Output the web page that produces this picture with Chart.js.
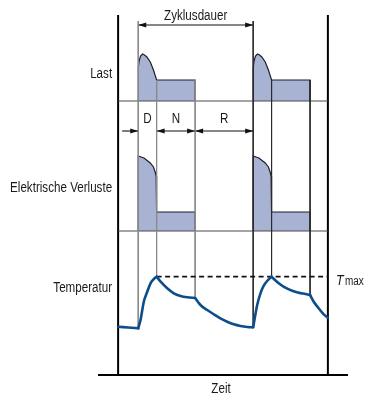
<!DOCTYPE html>
<html>
<head>
<meta charset="utf-8">
<script src="https://cdn.jsdelivr.net/npm/chart.js@4/dist/chart.umd.min.js"></script>
<style>
  html, body { margin: 0; padding: 0; background: #ffffff; }
  #c { display: block; }
</style>
</head>
<body>
<canvas id="c" width="371" height="397"></canvas>
<script>
// ---- Duty cycle: start (D), constant load (N), rest (R) ----
const phaseLabels  = ['D', 'N', 'R'];
const phaseLengths = [3.2, 6.7, 10.1];          // one cycle = 20 time units
const cycleStarts  = [0, 20];
const cycleLength  = 20;

// ---- Bands (stacked rows, shared vertical axis) ----
const rowLabels    = ['Last', 'Elektrische Verluste', 'Temperatur'];
const rowBaselines = [27.4, 14.4, 0];
const bandTop      = 36;
const windowRange  = [-3.5, 33];                  // observed time window
const axisRange    = [-7, 36.5];                  // time axis "Zeit"

// ---- Last: starting peak, then constant load (offsets within a cycle) ----
const loadT = [0, 0, 0.05, 0.15, 0.4, 0.75, 1.1, 1.5, 2.1, 2.65, 3.2, 9.9, 9.9];
const loadV = [27.4, 29.8, 30.8, 31.4, 31.9, 32.1, 32.0, 31.8, 31.3, 30.5, 29.5, 29.5, 27.4];

// ---- Elektrische Verluste (offsets within a cycle) ----
const lossT = [0, 0, 1.0, 2.1, 2.65, 2.95, 3.12, 3.2, 3.2, 9.9, 9.9];
const lossV = [14.4, 21.9, 21.7, 21.2, 20.8, 20.3, 19.9, 19.4, 16.3, 16.3, 14.4];

// ---- Temperatur, piecewise per phase ----
const tempPre   = [[-3.5, 4.83], [-1.75, 4.75], [0, 4.67]];
const tempRise1 = [[0, 4.67], [0.4, 5.5], [0.97, 7.33], [1.57, 8.33], [2.14, 9.17], [2.71, 9.6], [3.2, 9.83]];
const tempN1    = [[3.2, 9.83], [3.9, 9.33], [5.04, 8.67], [6.19, 8.17], [7.36, 7.9], [8.52, 7.77], [9.9, 7.7]];
const tempR1    = [[9.9, 7.7], [10.83, 7.0], [12.0, 6.5], [13.15, 6.07], [14.3, 5.67], [15.48, 5.33], [16.63, 5.07], [17.79, 4.9], [18.96, 4.8], [20, 4.77]];
const tempRise2 = [[20, 4.77], [20.7, 7.0], [21.27, 8.17], [21.84, 8.93], [22.43, 9.4], [23.2, 9.83]];
const tempN2    = [[23.2, 9.83], [24.45, 9.17], [25.6, 8.73], [26.78, 8.43], [27.93, 8.23], [29.1, 8.1], [29.9, 8.0]];
const tempR2    = [[29.9, 8.0], [30.54, 7.33], [31.4, 6.67], [32.28, 6.07], [33.0, 5.73]];
const tempMax   = 9.83;

// ---- Annotation levels ----
const cycleArrowLevel = 35;
const phaseArrowLevel = 24.4;
const phaseArrowLead  = -2.8;   // D is marked from outside
const loadLevel       = 29.5;
const guideTop        = 35.4;

// ---- Styling ----
const FILL   = '#a8b2d2';
const EDGE   = '#1e1e2a';
const TEMP   = '#0d4d8a';
const INK    = '#1a1a1a';
const guideColors = ['#8a8a8a', '#2b2b2b'];

const pts = arr => arr.map(p => ({ x: p[0], y: p[1] }));
const line = (data, color, width, extra) => Object.assign({
  data, borderColor: color, borderWidth: width, pointRadius: 0,
  fill: false, tension: 0, clip: false
}, extra || {});

const datasets = [];

// temperature curve (on top)
[tempPre, tempRise1, tempN1, tempR1, tempRise2, tempN2, tempR2].forEach(seg => {
  datasets.push(line(pts(seg), TEMP, 2.6, { order: 0, cubicInterpolationMode: 'monotone', borderCapStyle: 'round', borderJoinStyle: 'round' }));
});

// T max dashed level
datasets.push(line([{ x: phaseLengths[0], y: tempMax }, { x: windowRange[1], y: tempMax }], '#111', 1.8,
  { order: 1, borderDash: [5, 3.5] }));

// guide lines at phase boundaries, down to the temperature curve
const tempAtBoundary = [
  [tempRise1[0][1], tempN1[0][1], tempR1[0][1]],
  [tempRise2[0][1], tempN2[0][1], tempR2[0][1]]
];
cycleStarts.forEach((s, ci) => {
  const bounds = [0, phaseLengths[0], phaseLengths[0] + phaseLengths[1]];
  bounds.forEach((b, bi) => {
    const top = bi === 0 ? guideTop : loadLevel;
    datasets.push(line([{ x: s + b, y: top }, { x: s + b, y: tempAtBoundary[ci][bi] }], guideColors[ci], 1, { order: 2 }));
  });
});

// band separators
[rowBaselines[0], rowBaselines[1]].forEach(v => {
  datasets.push(line([{ x: windowRange[0], y: v }, { x: windowRange[1], y: v }], '#4a4a4a', 1.1, { order: 3 }));
});

// filled load and loss shapes
cycleStarts.forEach(s => {
  datasets.push(line(loadT.map((t, i) => ({ x: s + t, y: loadV[i] })), EDGE, 1.2,
    { order: 4, fill: { value: rowBaselines[0] }, backgroundColor: FILL }));
  datasets.push(line(lossT.map((t, i) => ({ x: s + t, y: lossV[i] })), EDGE, 1.2,
    { order: 4, fill: { value: rowBaselines[1] }, backgroundColor: FILL }));
});

// frame and time axis
windowRange.forEach(t => {
  datasets.push(line([{ x: t, y: 0 }, { x: t, y: bandTop }], '#000', 2, { order: 5 }));
});
datasets.push(line([{ x: axisRange[0], y: 0 }, { x: axisRange[1], y: 0 }], '#000', 2, { order: 5 }));

// dimension arrows: cycle length and D / N / R
const arrows = [
  { from: cycleStarts[0], to: cycleStarts[0] + cycleLength, y: cycleArrowLevel, heads: ['start', 'end'] },
  { from: phaseArrowLead, to: 0, y: phaseArrowLevel, heads: ['end'] },
  { from: phaseLengths[0], to: phaseLengths[0] + phaseLengths[1], y: phaseArrowLevel, heads: ['start', 'end'] },
  { from: phaseLengths[0] + phaseLengths[1], to: cycleLength, y: phaseArrowLevel, heads: ['start', 'end'] }
];
arrows.forEach(a => {
  datasets.push(line([{ x: a.from, y: a.y }, { x: a.to, y: a.y }], '#111', 1.1, { order: 2 }));
});

function drawText(ctx, text, px, py, align, font, sx) {
  ctx.save();
  ctx.font = font;
  ctx.textBaseline = 'alphabetic';
  ctx.textAlign = 'left';
  const w = ctx.measureText(text).width * sx;
  const x0 = align === 'right' ? px - w : align === 'center' ? px - w / 2 : px;
  ctx.translate(x0, py);
  ctx.scale(sx, 1);
  ctx.fillStyle = INK;
  ctx.fillText(text, 0, 0);
  ctx.restore();
}

const annotations = {
  id: 'annotations',
  afterDatasetsDraw(chart) {
    const ctx = chart.ctx;
    const xs = chart.scales.x, ys = chart.scales.y;
    const X = v => xs.getPixelForValue(v), Y = v => ys.getPixelForValue(v);

    // arrowheads
    ctx.save();
    ctx.fillStyle = '#111';
    arrows.forEach(a => {
      const y = Y(a.y);
      a.heads.forEach(h => {
        const tip = h === 'end' ? X(a.to) : X(a.from);
        const dir = h === 'end' ? -1 : 1;
        ctx.beginPath();
        ctx.moveTo(tip, y);
        ctx.lineTo(tip + dir * 8, y - 2.6);
        ctx.lineTo(tip + dir * 8, y + 2.6);
        ctx.closePath();
        ctx.fill();
      });
    });
    ctx.restore();

    const F = '"Liberation Sans", Arial, sans-serif';
    const SX = 0.83;
    // row labels
    const labelX = X(windowRange[0]) - 6;
    const labelLevels = [29.73, 18.33, 8.27];
    rowLabels.forEach((t, i) => drawText(ctx, t, labelX, Y(labelLevels[i]), 'right', '14px ' + F, SX));

    // cycle length
    drawText(ctx, 'Zyklusdauer', X(cycleStarts[0] + cycleLength / 2), Y(35.55), 'center', '14px ' + F, SX);

    // phase letters
    let acc = 0;
    phaseLabels.forEach((p, i) => {
      const mid = acc + phaseLengths[i] / 2;
      acc += phaseLengths[i];
      drawText(ctx, p, X(mid), Y(25.2), 'center', '14px ' + F, SX);
    });

    // T max
    drawText(ctx, 'T', X(windowRange[1]) + 8, Y(tempMax) + 8, 'left', 'italic 15px ' + F, SX);
    drawText(ctx, 'max', X(windowRange[1]) + 17, Y(tempMax) + 8.5, 'left', '12px ' + F, SX);

    // time axis
    drawText(ctx, 'Zeit', X((windowRange[0] + windowRange[1]) / 2) - 2, Y(0) + 18, 'center', '14px ' + F, SX);
  }
};

new Chart(document.getElementById('c'), {
  type: 'line',
  data: { datasets },
  options: {
    responsive: false,
    animation: false,
    devicePixelRatio: 1,
    events: [],
    layout: { padding: { left: 98, right: 23, top: 15, bottom: 22 } },
    plugins: { legend: { display: false }, tooltip: { enabled: false } },
    scales: {
      x: { type: 'linear', min: axisRange[0], max: axisRange[1], display: false },
      y: { type: 'linear', min: 0, max: bandTop, display: false }
    }
  },
  plugins: [annotations]
});
</script>
</body>
</html>
